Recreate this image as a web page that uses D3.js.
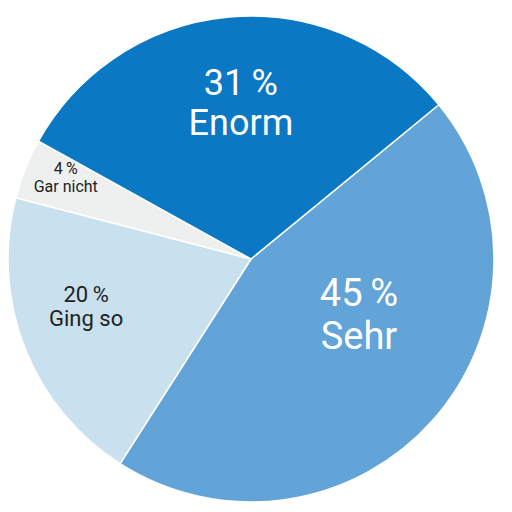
<!DOCTYPE html>
<html><head><meta charset="utf-8">
<script src="https://cdn.jsdelivr.net/npm/d3@7"></script>
<style>body{margin:0;background:#fff}</style>
</head><body>
<script>
// slice order clockwise starting from the Enorm/Sehr border
var labels = ['Sehr', 'Ging so', 'Gar nicht', 'Enorm'];
var values = [45, 20, 4, 31];
var colors = ['#62a3d8', '#c9e0ee', '#eef0f0', '#0a78c2'];

var W = 512, H = 512, cx = 251, cy = 259, R = 243;
var svg = d3.select('body').append('svg').attr('width', W).attr('height', H);
var g = svg.append('g').attr('transform', 'translate(' + cx + ',' + cy + ')');

var a0 = 50.6 * Math.PI / 180;
var pie = d3.pie().sort(null).startAngle(a0).endAngle(a0 + 2 * Math.PI);
var arc = d3.arc().innerRadius(0).outerRadius(R);
var arcs = pie(values);

g.selectAll('path').data(arcs).enter().append('path')
  .attr('d', arc)
  .attr('fill', function(d, i) { return colors[i]; })
  .attr('stroke', '#fff').attr('stroke-width', 1.5);

// label placement per slice (radius factor, nudge, font size, text colour)
var labStyle = [
  {r: 0.55, fs: 38, c: '#fff', dx: 8, dy: -36},
  {r: 0.72, fs: 22, c: '#222', dx: -2, dy: -18},
  {r: 0.83, fs: 16, c: '#222', dx: 2, dy: -8},
  {r: 0.64, fs: 36, c: '#fff', dx: 4, dy: -4}
];
var lg = g.selectAll('g.lab').data(arcs).enter().append('g').attr('class', 'lab')
  .attr('transform', function(d, i) {
    var a = (d.startAngle + d.endAngle) / 2, s = labStyle[i], r = R * s.r;
    return 'translate(' + (Math.sin(a) * r + s.dx) + ',' + (-Math.cos(a) * r + s.dy) + ')';
  });
lg.append('text').attr('text-anchor', 'middle')
  .attr('font-family', 'Roboto, sans-serif')
  .attr('font-size', function(d, i) { return labStyle[i].fs; })
  .attr('fill', function(d, i) { return labStyle[i].c; })
  .attr('y', function(d, i) { return -labStyle[i].fs * 0.15; })
  .text(function(d) { return d.data + '\u2009%'; });
lg.append('text').attr('text-anchor', 'middle')
  .attr('font-family', 'Roboto, sans-serif')
  .attr('font-size', function(d, i) { return labStyle[i].fs; })
  .attr('fill', function(d, i) { return labStyle[i].c; })
  .attr('y', function(d, i) { return labStyle[i].fs * 0.98; })
  .text(function(d, i) { return labels[i]; });
</script>
</body></html>
